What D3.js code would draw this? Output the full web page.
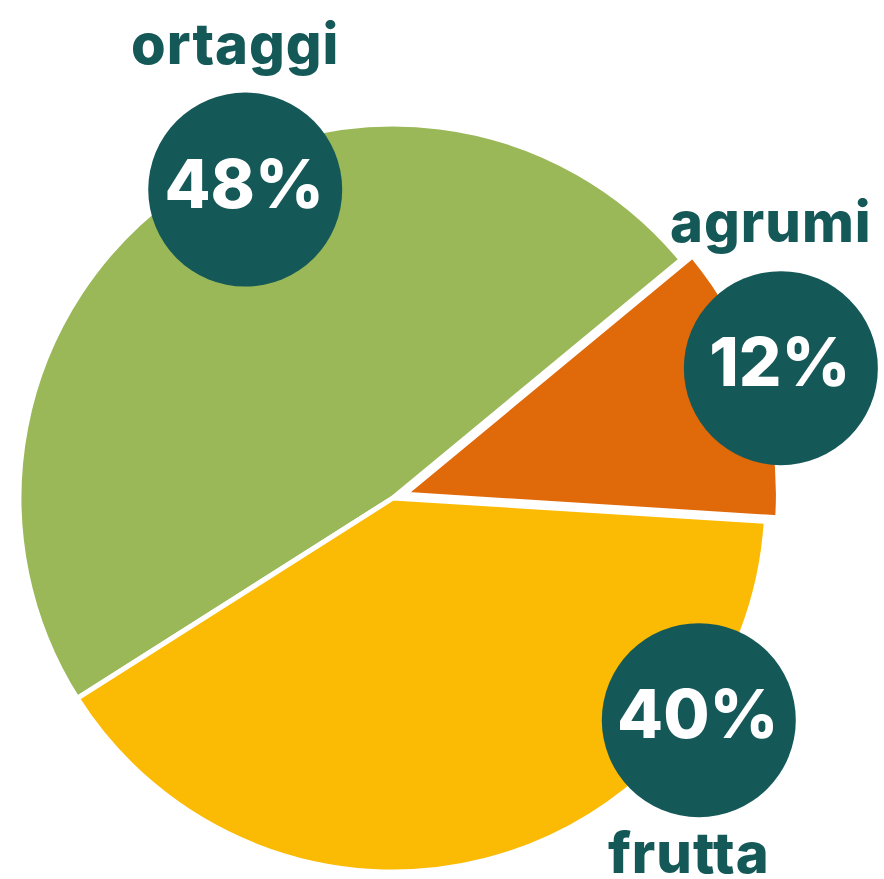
<!DOCTYPE html>
<html>
<head>
<meta charset="utf-8">
<script src="https://cdn.jsdelivr.net/npm/d3@7"></script>
<style>
  html, body { margin: 0; padding: 0; background: #fff; }
  svg { display: block; }
</style>
</head>
<body>
<svg width="884" height="879"></svg>
<script>
// data
let categories = ["ortaggi", "agrumi", "frutta"];
let values = [48, 12, 40];
let colors = ["#9ab857", "#e0690a", "#fbba04"];

// layout per slice (deg / px from pie centre)
let explode = [0, 12, 0];
let bubbleAngle = [-25.6, 71.5, 126];
let bubbleDist = [342, 409, 378];
let labelSide = ["top", "top", "bottom"];

let svg = d3.select("svg"),
    cx = 393, cy = 498,
    radius = 374,
    bubbleR = 97,
    ink = "#155858",
    font = "Inter, 'Open Sans', sans-serif";

let g = svg.append("g").attr("transform", "translate(" + cx + "," + cy + ")");

let data = categories.map(function(c, i) {
    return {name: c, value: values[i], color: colors[i], ex: explode[i],
            ba: bubbleAngle[i], bd: bubbleDist[i], side: labelSide[i]};
});

let pie = d3.pie()
    .sort(null)
    .value(function(d) { return d.value; })
    .startAngle(-122.4 * Math.PI / 180)
    .endAngle((360 - 122.4) * Math.PI / 180);

let arc = d3.arc().innerRadius(0).outerRadius(radius);

let arcs = pie(data);

g.selectAll("path.slice")
    .data(arcs)
    .enter().append("path")
    .attr("class", "slice")
    .attr("d", arc)
    .attr("fill", function(d) { return d.data.color; })
    .attr("stroke", "#fff")
    .attr("stroke-width", 5)
    .attr("stroke-linejoin", "miter")
    .attr("transform", function(d) {
        let a = (d.startAngle + d.endAngle) / 2;
        return "translate(" + (Math.sin(a) * d.data.ex) + "," + (-Math.cos(a) * d.data.ex) + ")";
    });

// bubbles
let bubble = g.selectAll("g.bubble")
    .data(arcs)
    .enter().append("g")
    .attr("class", "bubble")
    .attr("transform", function(d) {
        let a = d.data.ba * Math.PI / 180;
        return "translate(" + (Math.sin(a) * d.data.bd) + "," + (-Math.cos(a) * d.data.bd) + ")";
    });

bubble.append("circle")
    .attr("r", bubbleR)
    .attr("fill", ink);

bubble.append("text")
    .attr("text-anchor", "middle")
    .attr("x", -1)
    .attr("y", 18)
    .attr("fill", "#fff")
    .attr("font-family", font)
    .attr("font-weight", 800)
    .attr("font-size", 67)
    .text(function(d) { return d.data.value + "%"; });

bubble.append("text")
    .attr("text-anchor", "middle")
    .attr("x", -10)
    .attr("y", function(d) { return d.data.side == "top" ? -126 : 153; })
    .attr("fill", ink)
    .attr("font-family", font)
    .attr("font-weight", 800)
    .attr("font-size", 56)
    .attr("letter-spacing", 1)
    .text(function(d) { return d.data.name; });
</script>
</body>
</html>
